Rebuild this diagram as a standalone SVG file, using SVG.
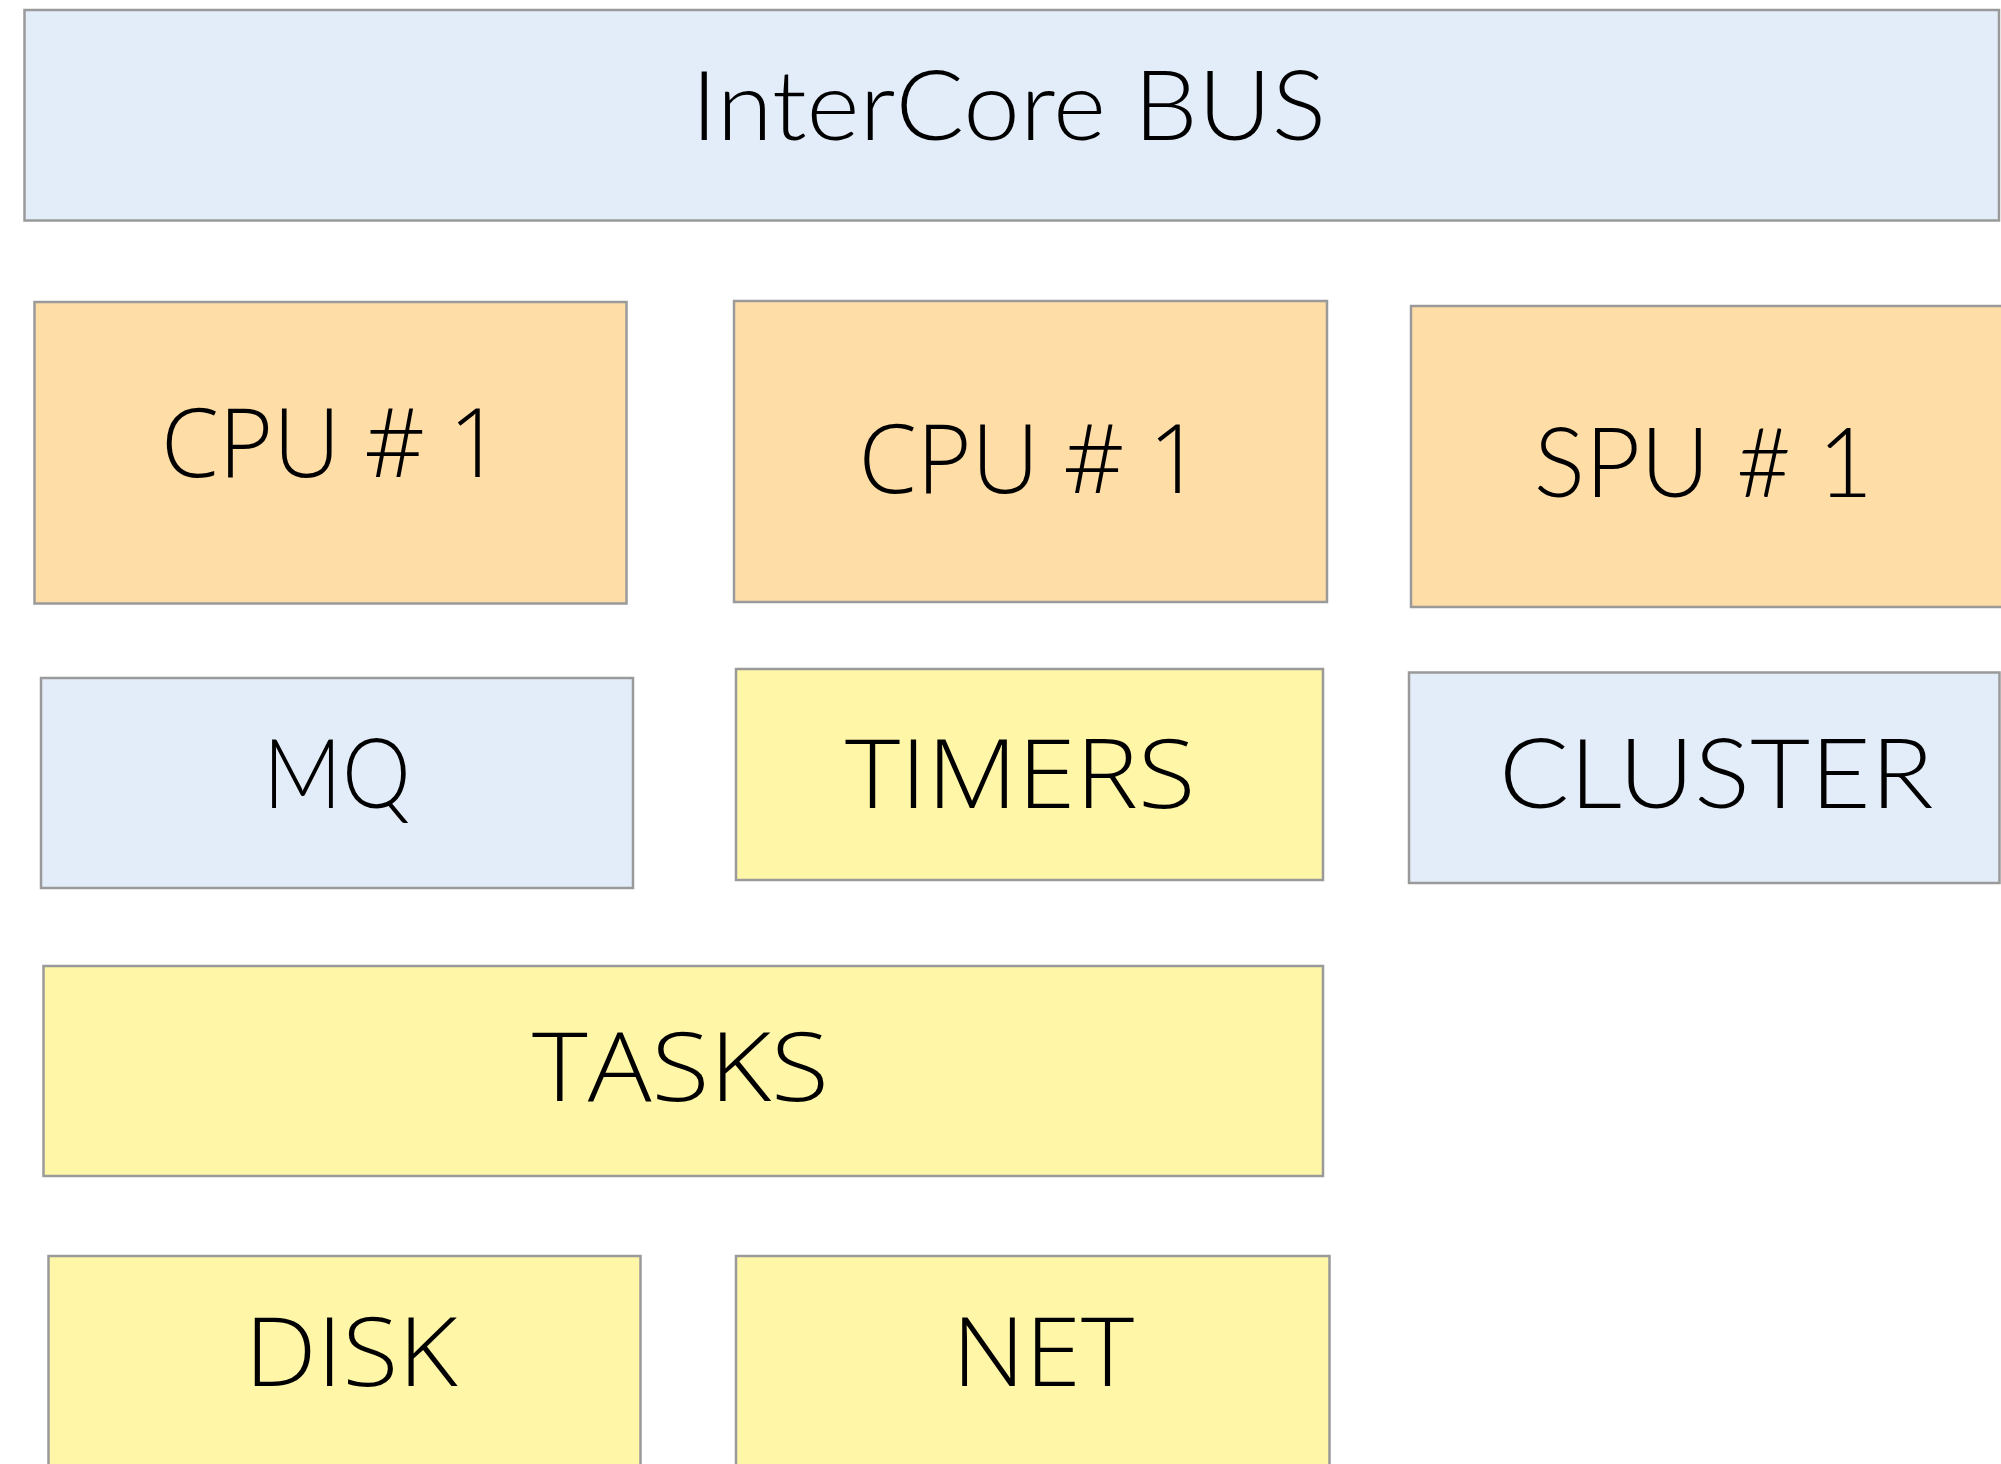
<svg xmlns="http://www.w3.org/2000/svg" width="2001" height="1464" viewBox="0 0 2001 1464">
  <style>
    .box { stroke: #9a9a9a; stroke-width: 2.5; }
    .blue { fill: #e3edf9; }
    .orange { fill: #fedda7; }
    .yellow { fill: #fff6a7; }
    .geo { font-family: Lato, "Open Sans", sans-serif; font-weight: 300; font-size: 96px; fill: #000; }
    .hum { font-family: "Open Sans", "Noto Sans", sans-serif; font-weight: 300; font-size: 96px; fill: #000; }
  </style>
  <rect x="0" y="0" width="2001" height="1464" fill="#ffffff"/>

  <g id="intercore-bus">
    <rect class="box blue" x="24.5" y="10" width="1974.5" height="210.5"/>
    <text class="geo" x="691" y="140" textLength="635" lengthAdjust="spacingAndGlyphs">InterCore BUS</text>
  </g>

  <g id="cpu-a">
    <rect class="box orange" x="34.5" y="302" width="592" height="301.5"/>
    <text class="hum" x="161" y="477" textLength="341" lengthAdjust="spacingAndGlyphs">CPU # 1</text>
  </g>

  <g id="cpu-b">
    <rect class="box orange" x="734" y="301" width="593" height="301"/>
    <text class="hum" x="858.5" y="492.7" textLength="343.5" lengthAdjust="spacingAndGlyphs">CPU # 1</text>
  </g>

  <g id="spu">
    <rect class="box orange" x="1411" y="306" width="600" height="301"/>
    <text class="geo" x="1533.7" y="497" textLength="339.5" lengthAdjust="spacingAndGlyphs">SPU # 1</text>
  </g>

  <g id="mq">
    <rect class="box blue" x="41" y="678" width="592" height="210"/>
    <text class="geo" x="263" y="808" textLength="147.7" lengthAdjust="spacingAndGlyphs">MQ</text>
  </g>

  <g id="timers">
    <rect class="box yellow" x="736" y="669" width="587" height="211"/>
    <text class="hum" x="845" y="808" textLength="350.5" lengthAdjust="spacingAndGlyphs">TIMERS</text>
  </g>

  <g id="cluster">
    <rect class="box blue" x="1409" y="672.5" width="590.5" height="210.5"/>
    <text class="geo" x="1499" y="808" textLength="434.7" lengthAdjust="spacingAndGlyphs">CLUSTER</text>
  </g>

  <g id="tasks">
    <rect class="box yellow" x="43.5" y="966" width="1279.5" height="210"/>
    <text class="hum" x="532" y="1101" textLength="297" lengthAdjust="spacingAndGlyphs">TASKS</text>
  </g>

  <g id="disk">
    <rect class="box yellow" x="48.5" y="1256" width="592" height="250"/>
    <text class="hum" x="244.6" y="1386" textLength="213" lengthAdjust="spacingAndGlyphs">DISK</text>
  </g>

  <g id="net">
    <rect class="box yellow" x="736" y="1256" width="593.5" height="250"/>
    <text class="hum" x="952" y="1386" textLength="182" lengthAdjust="spacingAndGlyphs">NET</text>
  </g>

  <g id="connectors"/>
</svg>
